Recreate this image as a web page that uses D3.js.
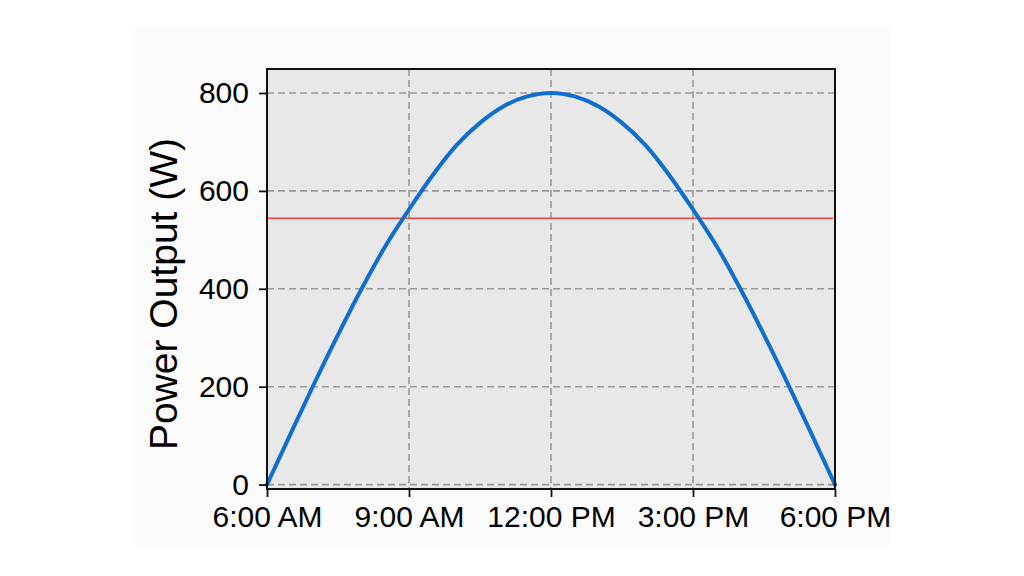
<!DOCTYPE html>
<html>
<head>
<meta charset="utf-8">
<script src="https://cdn.jsdelivr.net/npm/d3@7"></script>
<style>
  html, body { margin: 0; padding: 0; background: #ffffff; }
  svg { display: block; }
  text { font-family: "Liberation Sans", Arial, Helvetica, sans-serif; fill: #000; }
</style>
</head>
<body>
<svg id="chart" width="1024" height="576"></svg>
<script>
// Hours of day (6 = 6:00 AM, 18 = 6:00 PM)
const hours = [6, 6.5, 7, 7.5, 8, 8.5, 9, 9.5, 10, 10.5, 11, 11.5, 12,
               12.5, 13, 13.5, 14, 14.5, 15, 15.5, 16, 16.5, 17, 17.5, 18];
// Power output (W)
const power = [0, 104, 207, 306, 400, 487, 562, 632, 693, 739, 773, 793, 800,
               793, 773, 739, 693, 632, 562, 487, 400, 306, 207, 104, 0];
// Reference threshold (W)
const threshold = 544;
// Tick values / labels
const xTicks = [6, 9, 12, 15, 18];
const xTickLabels = ["6:00 AM", "9:00 AM", "12:00 PM", "3:00 PM", "6:00 PM"];
const yTicks = [0, 200, 400, 600, 800];
const yTitle = "Power Output (W)";

const svg = d3.select("#chart");

// faint panel behind the figure
svg.append("rect").attr("x", 135).attr("y", 27).attr("width", 755).attr("height", 518)
  .attr("fill", "#fafafa");

const L = 267, R = 835, T = 69, B = 489;
const x = d3.scaleLinear().domain([6, 18]).range([L, R]);
const y = d3.scaleLinear().domain([-9, 849]).range([B, T]);

// plot background
svg.append("rect").attr("x", L).attr("y", T).attr("width", R - L).attr("height", B - T)
  .attr("fill", "#e8e8e8");

// grid
const grid = svg.append("g");
grid.selectAll("line.gx").data(xTicks.slice(1, -1)).enter().append("line")
  .attr("x1", d => x(d)).attr("x2", d => x(d)).attr("y1", T).attr("y2", B)
  .attr("stroke", "#999999").attr("stroke-width", 1.6).attr("stroke-dasharray", "7,4");
grid.selectAll("line.gy").data(yTicks).enter().append("line")
  .attr("x1", L).attr("x2", R).attr("y1", d => y(d)).attr("y2", d => y(d))
  .attr("stroke", "#999999").attr("stroke-width", 1.6).attr("stroke-dasharray", "7,4");

// threshold line
svg.append("line").attr("x1", L).attr("x2", R - 2)
  .attr("y1", y(threshold)).attr("y2", y(threshold))
  .attr("stroke", "#ff3b3b").attr("stroke-width", 1.6);

// curve
const data = hours.map((h, i) => ({ h, p: power[i] }));
svg.append("path").datum(data)
  .attr("fill", "none").attr("stroke", "#0f6fd0").attr("stroke-width", 4)
  .attr("stroke-linecap", "round")
  .attr("d", d3.line().x(d => x(d.h)).y(d => y(d.p)).curve(d3.curveMonotoneX));

// frame
svg.append("rect").attr("x", L).attr("y", T).attr("width", R - L).attr("height", B - T)
  .attr("fill", "none").attr("stroke", "#111").attr("stroke-width", 2);

// axes
const xAxis = d3.axisBottom(x).tickValues(xTicks)
  .tickFormat((d, i) => xTickLabels[i]).tickSize(8).tickPadding(9);
const gx = svg.append("g").attr("transform", `translate(0,${B})`).call(xAxis);
gx.select(".domain").remove();
gx.selectAll(".tick line").attr("stroke", "#111").attr("stroke-width", 1.8);
gx.selectAll(".tick text").attr("font-size", 30)
  .attr("font-family", "'Liberation Sans', Arial, sans-serif").attr("fill", "#000");

const yAxis = d3.axisLeft(y).tickValues(yTicks).tickSize(8).tickPadding(10);
const gy = svg.append("g").attr("transform", `translate(${L},0)`).call(yAxis);
gy.select(".domain").remove();
gy.selectAll(".tick line").attr("stroke", "#111").attr("stroke-width", 1.8);
gy.selectAll(".tick text").attr("font-size", 30)
  .attr("font-family", "'Liberation Sans', Arial, sans-serif").attr("fill", "#000");

// y title
svg.append("text")
  .attr("transform", "translate(177,294) rotate(-90)")
  .attr("text-anchor", "middle")
  .attr("font-size", 39)
  .text(yTitle);
</script>
</body>
</html>
